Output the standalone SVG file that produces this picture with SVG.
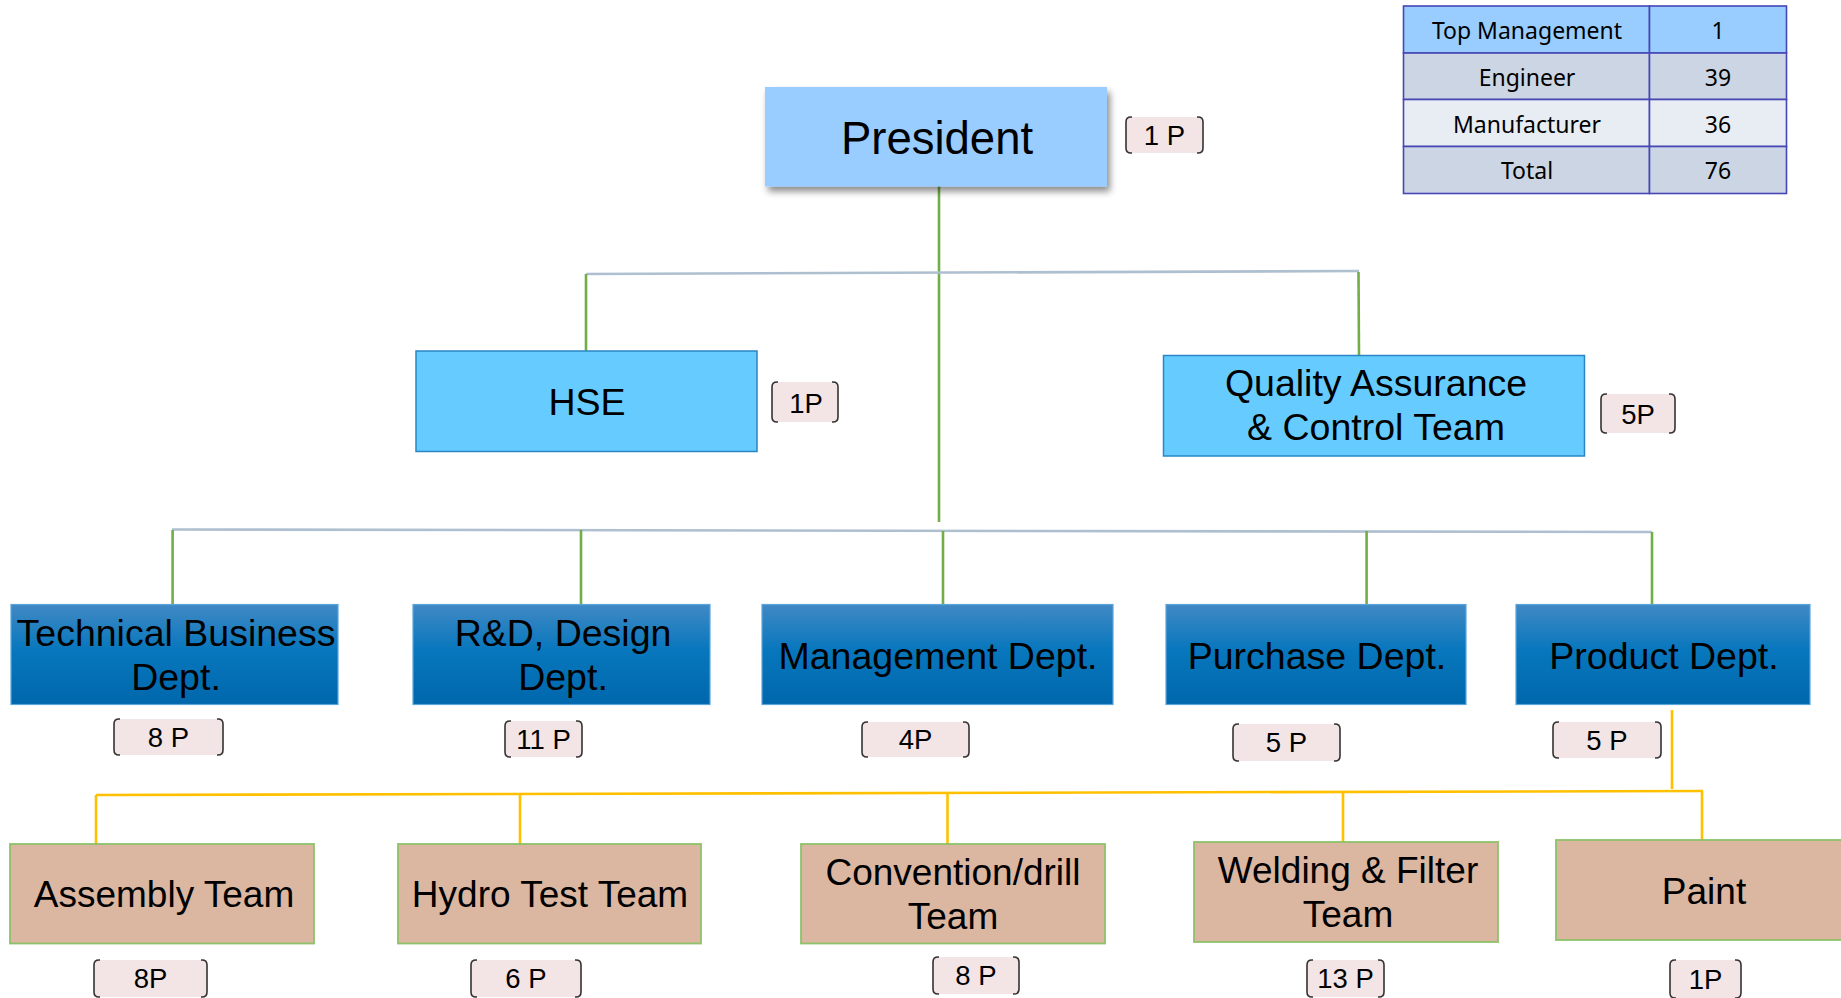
<svg xmlns="http://www.w3.org/2000/svg" width="1841" height="998" viewBox="0 0 1841 998">
<defs>
<linearGradient id="dept" x1="0" y1="0" x2="0" y2="1">
<stop offset="0" stop-color="#4189C4"/>
<stop offset="0.45" stop-color="#0877BD"/>
<stop offset="1" stop-color="#0067AC"/>
</linearGradient>
<filter id="sh" x="-10%" y="-10%" width="125%" height="135%">
<feDropShadow dx="3" dy="5" stdDeviation="3.5" flood-color="#000" flood-opacity="0.45"/>
</filter>
<style>
text{font-family:"Liberation Sans",Arial,sans-serif;fill:#000;text-anchor:middle}
.tb text{font-family:"Noto Sans","Open Sans",sans-serif;font-size:23px}
.tb rect{stroke:#4646B4;stroke-width:1.6}
.lv1{fill:#66CCFF;stroke:#2A86C4;stroke-width:1.5}
.dept{fill:url(#dept);stroke:#5AA6DA;stroke-width:1.2}
.team{fill:#DBB6A0;stroke:#8DC26A;stroke-width:1.8}
.bf{fill:#F3E4E6}
.bk{fill:none;stroke:#333;stroke-width:1.6}
.bt{font-size:27.5px}
.g{stroke:#71AE48;stroke-width:2.6;fill:none}
.s{stroke:#AEBFCF;stroke-width:2.6;fill:none}
.y{stroke:#FFC000;stroke-width:2.6;fill:none}
.dt{font-size:37.5px}
.tt{font-size:37px}
</style>
</defs>
<rect width="1841" height="998" fill="#fff"/>

<g id="connectors">
<line class="g" x1="939" y1="186" x2="939" y2="522"/>
<line class="s" x1="586" y1="274" x2="1359" y2="271"/>
<line class="g" x1="586" y1="274" x2="586" y2="351"/>
<line class="g" x1="1358.5" y1="272" x2="1359" y2="356"/>
<line class="s" x1="172" y1="529.5" x2="1652" y2="532"/>
<line class="g" x1="172.6" y1="530" x2="172.6" y2="605"/>
<line class="g" x1="581" y1="530" x2="581" y2="605"/>
<line class="g" x1="943" y1="531" x2="943" y2="605"/>
<line class="g" x1="1366.6" y1="531" x2="1366.6" y2="605"/>
<line class="g" x1="1652" y1="532" x2="1652" y2="605"/>
<line class="y" x1="1672" y1="710" x2="1672" y2="789"/>
<line class="y" x1="96" y1="795" x2="1703" y2="791"/>
<line class="y" x1="96" y1="795" x2="96" y2="844"/>
<line class="y" x1="520" y1="794" x2="520" y2="844"/>
<line class="y" x1="947.5" y1="793" x2="947.5" y2="844"/>
<line class="y" x1="1343" y1="792" x2="1343" y2="842"/>
<line class="y" x1="1702" y1="791" x2="1702" y2="840"/>
</g>

<g id="table" class="tb">
<rect x="1403.5" y="6" width="246" height="47" fill="#99CCFF"/>
<rect x="1649.5" y="6" width="137" height="47" fill="#99CCFF"/>
<rect x="1403.5" y="53" width="246" height="46.5" fill="#CBD5E3"/>
<rect x="1649.5" y="53" width="137" height="46.5" fill="#CBD5E3"/>
<rect x="1403.5" y="99.5" width="246" height="47" fill="#E8ECF3"/>
<rect x="1649.5" y="99.5" width="137" height="47" fill="#E8ECF3"/>
<rect x="1403.5" y="146.5" width="246" height="47" fill="#CBD5E3"/>
<rect x="1649.5" y="146.5" width="137" height="47" fill="#CBD5E3"/>
<text x="1527" y="39">Top Management</text>
<text x="1718" y="39">1</text>
<text x="1527" y="86">Engineer</text>
<text x="1718" y="86">39</text>
<text x="1527" y="133">Manufacturer</text>
<text x="1718" y="133">36</text>
<text x="1527" y="179">Total</text>
<text x="1718" y="179">76</text>
</g>

<g id="president">
<rect x="765" y="87" width="342" height="99.5" fill="#99CCFF" filter="url(#sh)"/>
<text x="937" y="153.5" font-size="45.5">President</text>
<rect class="bf" x="1126" y="117" width="77" height="36"/>
<path class="bk" d="M1132 117H1131Q1126 117 1126 122V148Q1126 153 1131 153H1132M1197 117H1198Q1203 117 1203 122V148Q1203 153 1198 153H1197"/>
<text class="bt" x="1164.5" y="145">1 P</text>
</g>

<g id="hse">
<rect class="lv1" x="416" y="351" width="341" height="100.5"/>
<text x="587" y="415" font-size="37.5">HSE</text>
<rect class="bf" x="772" y="382" width="66" height="40"/>
<path class="bk" d="M778 382H777Q772 382 772 387V417Q772 422 777 422H778M832 382H833Q838 382 838 387V417Q838 422 833 422H832"/>
<text class="bt" x="806" y="412.5">1P</text>
</g>

<g id="qa">
<rect class="lv1" x="1163.5" y="355.5" width="421" height="100.5"/>
<text x="1376" y="396" font-size="37.5">Quality Assurance</text>
<text x="1376" y="440" font-size="37.5">&amp; Control Team</text>
<rect class="bf" x="1601" y="394" width="74" height="39"/>
<path class="bk" d="M1607 394H1606Q1601 394 1601 399V428Q1601 433 1606 433H1607M1669 394H1670Q1675 394 1675 399V428Q1675 433 1670 433H1669"/>
<text class="bt" x="1638" y="423.5">5P</text>
</g>

<g id="tech">
<rect class="dept" x="11" y="604.5" width="327" height="100"/>
<text class="dt" x="176" y="646">Technical Business</text>
<text class="dt" x="176" y="690">Dept.</text>
<rect class="bf" x="114" y="719" width="109" height="36"/>
<path class="bk" d="M120 719H119Q114 719 114 724V750Q114 755 119 755H120M217 719H218Q223 719 223 724V750Q223 755 218 755H217"/>
<text class="bt" x="168.5" y="746.5">8 P</text>
</g>

<g id="rnd">
<rect class="dept" x="413" y="604.5" width="297" height="100"/>
<text class="dt" x="563" y="646">R&amp;D, Design</text>
<text class="dt" x="563" y="690">Dept.</text>
<rect class="bf" x="505" y="721" width="77" height="36"/>
<path class="bk" d="M511 721H510Q505 721 505 726V752Q505 757 510 757H511M576 721H577Q582 721 582 726V752Q582 757 577 757H576"/>
<text class="bt" x="543.5" y="748.5">11 P</text>
</g>

<g id="mgmt">
<rect class="dept" x="762" y="604.5" width="351" height="100"/>
<text class="dt" x="938" y="669">Management Dept.</text>
<rect class="bf" x="862" y="722" width="107" height="35"/>
<path class="bk" d="M868 722H867Q862 722 862 727V752Q862 757 867 757H868M963 722H964Q969 722 969 727V752Q969 757 964 757H963"/>
<text class="bt" x="915.5" y="749">4P</text>
</g>

<g id="purchase">
<rect class="dept" x="1166" y="604.5" width="300" height="100"/>
<text class="dt" x="1317" y="669">Purchase Dept.</text>
<rect class="bf" x="1233" y="724" width="107" height="37"/>
<path class="bk" d="M1239 724H1238Q1233 724 1233 729V756Q1233 761 1238 761H1239M1334 724H1335Q1340 724 1340 729V756Q1340 761 1335 761H1334"/>
<text class="bt" x="1286.5" y="752">5 P</text>
</g>

<g id="product">
<rect class="dept" x="1516" y="604.5" width="294" height="100"/>
<text class="dt" x="1664" y="669">Product Dept.</text>
<rect class="bf" x="1553" y="722" width="108" height="36"/>
<path class="bk" d="M1559 722H1558Q1553 722 1553 727V753Q1553 758 1558 758H1559M1655 722H1656Q1661 722 1661 727V753Q1661 758 1656 758H1655"/>
<text class="bt" x="1607" y="749.5">5 P</text>
</g>

<g id="assembly">
<rect class="team" x="10" y="844" width="304" height="99.5"/>
<text class="tt" x="164" y="907">Assembly Team</text>
<rect class="bf" x="94" y="960" width="113" height="37"/>
<path class="bk" d="M100 960H99Q94 960 94 965V992Q94 997 99 997H100M201 960H202Q207 960 207 965V992Q207 997 202 997H201"/>
<text class="bt" x="150.5" y="988">8P</text>
</g>

<g id="hydro">
<rect class="team" x="398" y="844" width="303" height="99.5"/>
<text class="tt" x="550" y="907">Hydro Test Team</text>
<rect class="bf" x="471" y="960" width="110" height="37"/>
<path class="bk" d="M477 960H476Q471 960 471 965V992Q471 997 476 997H477M575 960H576Q581 960 581 965V992Q581 997 576 997H575"/>
<text class="bt" x="526" y="988">6 P</text>
</g>

<g id="convention">
<rect class="team" x="801" y="844" width="304" height="99.5"/>
<text class="tt" x="953" y="885">Convention/drill</text>
<text class="tt" x="953" y="929">Team</text>
<rect class="bf" x="933" y="957" width="86" height="37"/>
<path class="bk" d="M939 957H938Q933 957 933 962V989Q933 994 938 994H939M1013 957H1014Q1019 957 1019 962V989Q1019 994 1014 994H1013"/>
<text class="bt" x="976" y="985">8 P</text>
</g>

<g id="welding">
<rect class="team" x="1194" y="842" width="304" height="100"/>
<text class="tt" x="1348" y="883">Welding &amp; Filter</text>
<text class="tt" x="1348" y="927">Team</text>
<rect class="bf" x="1307" y="960" width="77" height="37"/>
<path class="bk" d="M1313 960H1312Q1307 960 1307 965V992Q1307 997 1312 997H1313M1378 960H1379Q1384 960 1384 965V992Q1384 997 1379 997H1378"/>
<text class="bt" x="1345.5" y="988">13 P</text>
</g>

<g id="paint">
<rect class="team" x="1556" y="840" width="300" height="100"/>
<text class="tt" x="1704" y="904">Paint</text>
<rect class="bf" x="1670" y="960" width="71" height="38"/>
<path class="bk" d="M1676 960H1675Q1670 960 1670 965V993Q1670 998 1675 998H1676M1735 960H1736Q1741 960 1741 965V993Q1741 998 1736 998H1735"/>
<text class="bt" x="1705.5" y="988.5">1P</text>
</g>
</svg>
